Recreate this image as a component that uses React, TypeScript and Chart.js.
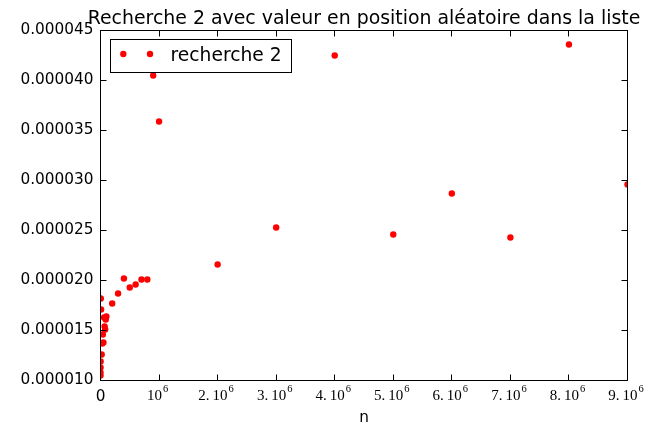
import React, { useEffect, useRef } from "react";
import { Chart, registerables } from "chart.js";

Chart.register(...registerables);

// ---- data ----
const nValues = [
  10, 100, 1000, 2000, 5000, 10000, 20000, 30000, 40000, 50000, 60000, 70000,
  80000, 90000, 100000, 200000, 300000, 400000, 500000, 600000, 700000, 800000,
  900000, 1000000, 2000000, 3000000, 4000000, 5000000, 6000000, 7000000,
  8000000, 9000000,
];
const times = [
  1.05e-5, 1.08e-5, 1.13e-5, 1.19e-5, 1.82e-5, 1.71e-5, 1.26e-5, 1.37e-5,
  1.46e-5, 1.38e-5, 1.63e-5, 1.54e-5, 1.51e-5, 1.61e-5, 1.64e-5, 1.77e-5,
  1.87e-5, 2.02e-5, 1.93e-5, 1.96e-5, 2.01e-5, 2.01e-5, 4.05e-5, 3.59e-5,
  2.16e-5, 2.53e-5, 4.25e-5, 2.46e-5, 2.87e-5, 2.43e-5, 4.36e-5, 2.96e-5,
];
const xTicks = [0, 1e6, 2e6, 3e6, 4e6, 5e6, 6e6, 7e6, 8e6, 9e6];
const xTickBase = ["0", "10", "2.10", "3.10", "4.10", "5.10", "6.10", "7.10", "8.10", "9.10"];
const xTickExp = ["", "6", "6", "6", "6", "6", "6", "6", "6", "6"];
const yTicks = [1e-5, 1.5e-5, 2e-5, 2.5e-5, 3e-5, 3.5e-5, 4e-5, 4.5e-5];

const titleText = "Recherche 2 avec valeur en position aléatoire dans la liste";
const seriesLabel = "recherche 2";
const xLabel = "n";

const SANS = '"DejaVu Sans", sans-serif';
const SERIF = '"Liberation Serif", "DejaVu Serif", serif';

const decorPlugin = {
  id: "decor",
  afterDraw(chart: any) {
    const ctx = chart.ctx as CanvasRenderingContext2D;
    const { left, right, top, bottom } = chart.chartArea;
    const xs = chart.scales.x;
    const ys = chart.scales.y;
    ctx.save();
    // frame
    ctx.strokeStyle = "#000";
    ctx.lineWidth = 1;
    ctx.strokeRect(left, top, right - left, bottom - top);
    // inward ticks
    const tl = 6;
    ctx.beginPath();
    xTicks.forEach((v) => {
      const px = Math.round(xs.getPixelForValue(v) - 0.5) + 0.5;
      ctx.moveTo(px, bottom);
      ctx.lineTo(px, bottom - tl);
      ctx.moveTo(px, top);
      ctx.lineTo(px, top + tl);
    });
    yTicks.forEach((v) => {
      const py = Math.round(ys.getPixelForValue(v) - 0.5) + 0.5;
      ctx.moveTo(left, py);
      ctx.lineTo(left + tl, py);
      ctx.moveTo(right, py);
      ctx.lineTo(right - tl, py);
    });
    ctx.stroke();

    // x tick labels (mathtext-like with superscript)
    ctx.fillStyle = "#000";
    ctx.textBaseline = "alphabetic";
    ctx.textAlign = "left";
    const baseFont = `15px ${SERIF}`;
    const expFont = `10.5px ${SERIF}`;
    xTicks.forEach((v, i) => {
      const px = xs.getPixelForValue(v);
      const base = xTickBase[i];
      const exp = xTickExp[i];
      if (!exp) {
        ctx.font = `15.3px ${SANS}`;
        const w = ctx.measureText(base).width;
        ctx.fillText(base, px - w / 2, 400.5);
        return;
      }
      ctx.font = baseFont;
      const dot = base.indexOf(".");
      const parts = dot >= 0 ? [base.slice(0, dot + 1), base.slice(dot + 1)] : [base];
      const gap = 3;
      const widths = parts.map((p) => ctx.measureText(p).width);
      const wb = widths.reduce((a, b) => a + b, 0) + (parts.length - 1) * gap;
      ctx.font = expFont;
      const we = ctx.measureText(exp).width;
      let x = px - (wb + we + 1) / 2 - 1.5;
      ctx.font = baseFont;
      parts.forEach((p, k) => {
        ctx.fillText(p, x, 400);
        x += widths[k] + gap;
      });
      x -= gap;
      ctx.font = expFont;
      ctx.fillText(exp, x + 1, 391.5);
    });

    // title
    ctx.font = `18.9px ${SANS}`;
    ctx.textAlign = "center";
    ctx.fillText(titleText, (left + right) / 2, 24);

    // x axis label
    ctx.font = `15.3px ${SANS}`;
    ctx.fillText(xLabel, (left + right) / 2, 421.5);

    // legend
    ctx.fillStyle = "#fff";
    ctx.fillRect(110.5, 39.5, 181, 33);
    ctx.strokeStyle = "#000";
    ctx.strokeRect(110.5, 39.5, 181, 33);
    ctx.fillStyle = "#ff0000";
    [123.3, 150].forEach((cx) => {
      ctx.beginPath();
      ctx.arc(cx, 54, 3.2, 0, Math.PI * 2);
      ctx.fill();
    });
    ctx.fillStyle = "#000";
    ctx.textAlign = "left";
    ctx.font = `18.7px ${SANS}`;
    ctx.fillText(seriesLabel, 170.5, 60.5);
    ctx.restore();
  },
};

export default function App() {
  const ref = useRef<HTMLCanvasElement | null>(null);
  useEffect(() => {
    document.body.style.margin = "0";
    const canvas = ref.current!;
    const chart = new Chart(canvas, {
      type: "scatter",
      data: {
        datasets: [
          {
            label: seriesLabel,
            data: nValues.map((n, i) => ({ x: n, y: times[i] })),
            backgroundColor: "#ff0000",
            borderColor: "#ff0000",
            borderWidth: 0,
            pointRadius: 3.2,
            pointHoverRadius: 3.2,
            clip: 0,
          } as any,
        ],
      },
      options: {
        responsive: false,
        animation: false,
        devicePixelRatio: 1,
        events: [],
        layout: { padding: { top: 30.5, right: 34.5, left: 0, bottom: 0 } },
        plugins: {
          legend: { display: false },
          title: { display: false },
          tooltip: { enabled: false },
        },
        scales: {
          x: {
            type: "linear",
            min: 0,
            max: 9e6,
            afterBuildTicks: (s: any) => {
              s.ticks = xTicks.map((v) => ({ value: v }));
            },
            grid: { display: false, drawTicks: false },
            border: { display: false },
            ticks: { display: false },
            afterFit: (s: any) => {
              s.height = 49.5;
            },
          },
          y: {
            type: "linear",
            min: 1e-5,
            max: 4.5e-5,
            afterBuildTicks: (s: any) => {
              s.ticks = yTicks.map((v) => ({ value: v }));
            },
            grid: { display: false, drawTicks: false },
            border: { display: false },
            ticks: {
              padding: 7,
              color: "#000",
              font: { family: '"DejaVu Sans", sans-serif', size: 15.3 },
              callback: (v: any) => Number(v).toFixed(6),
            },
            afterFit: (s: any) => {
              s.width = 100.5;
            },
          },
        },
      },
      plugins: [decorPlugin],
    });
    return () => chart.destroy();
  }, []);
  return <canvas ref={ref} width={662} height={430} style={{ display: "block" }} />;
}
